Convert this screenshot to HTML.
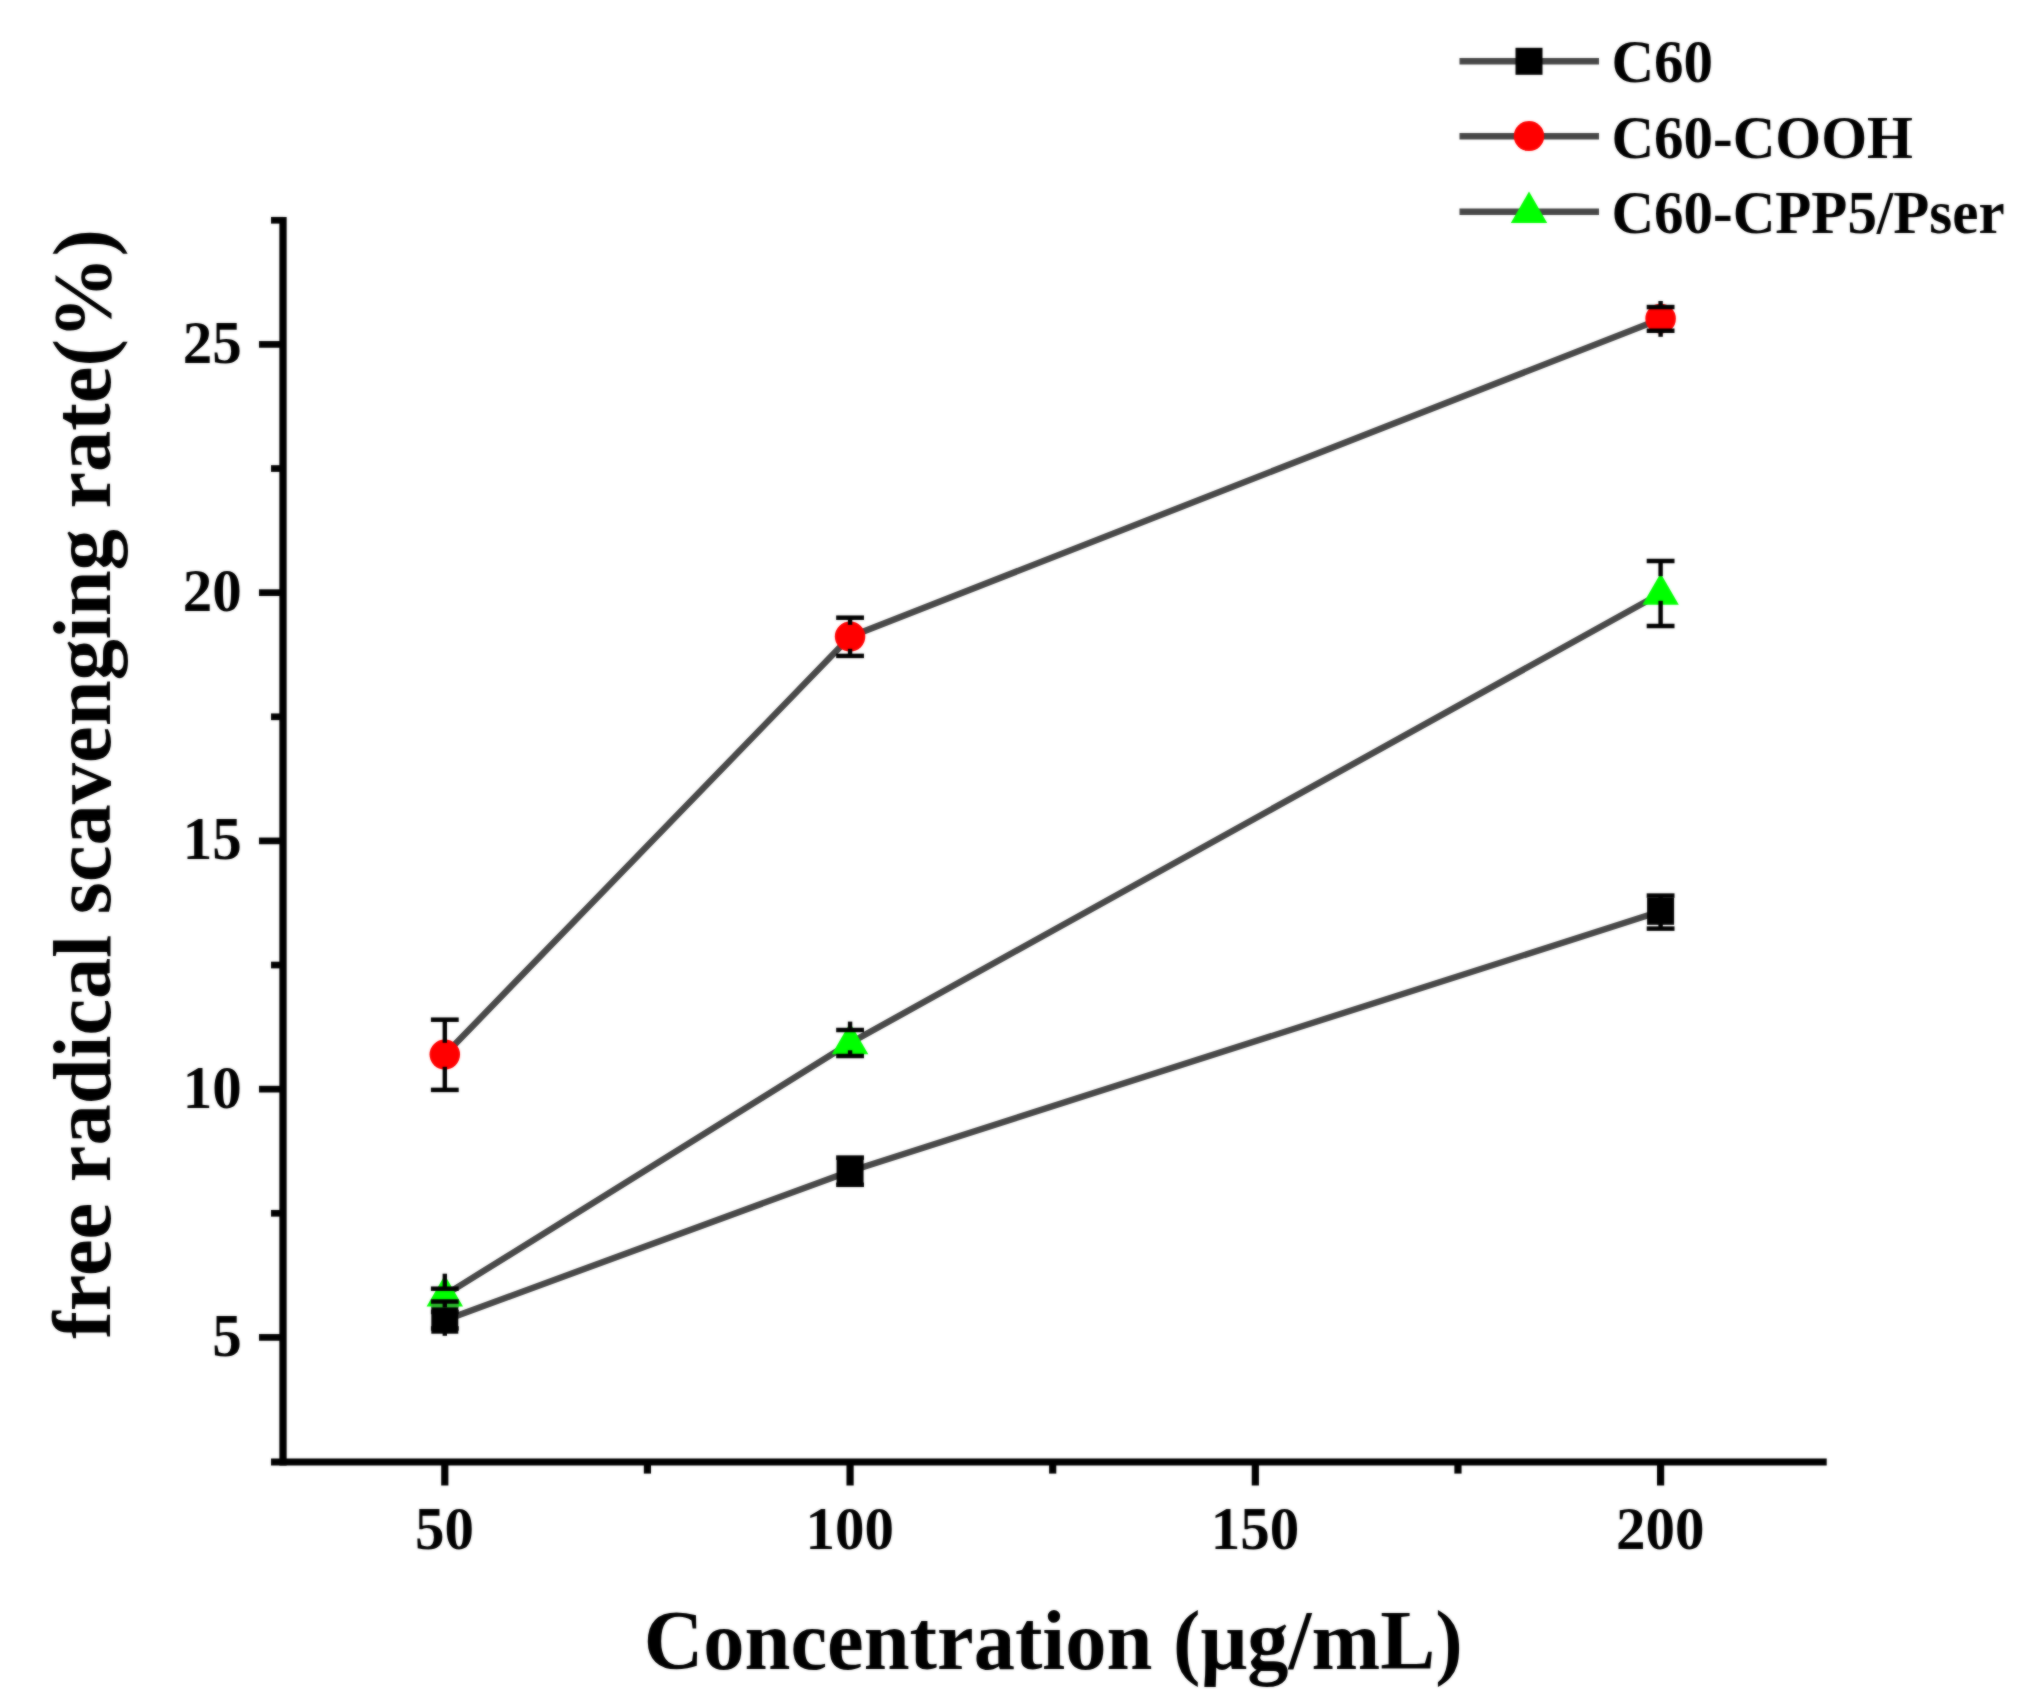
<!DOCTYPE html>
<html lang="en"><head><meta charset="utf-8"><title>Free radical scavenging rate vs concentration</title>
<style>html,body{margin:0;padding:0;background:#fff}body{width:2025px;height:1707px;overflow:hidden}svg{display:block}text{font-family:'Liberation Serif', 'Times New Roman', Times, serif;font-weight:bold;fill:#000}</style>
</head><body>
<svg width="2025" height="1707" viewBox="0 0 2025 1707">
<filter id="soft" x="0" y="0" width="2025" height="1707" filterUnits="userSpaceOnUse" color-interpolation-filters="sRGB"><feGaussianBlur stdDeviation="0.8" result="b"/><feComposite in="b" in2="SourceGraphic" operator="arithmetic" k1="0" k2="0.55" k3="0.45" k4="0"/></filter>
<g filter="url(#soft)">
<rect x="0" y="0" width="2025" height="1707" fill="#ffffff"/>
<g stroke="#000" fill="none" stroke-linecap="butt">
<line x1="283.00" y1="216.93" x2="283.00" y2="1465.40" stroke-width="7.3"/>
<line x1="271.00" y1="1461.90" x2="1826.70" y2="1461.90" stroke-width="7"/>
<line x1="259.00" y1="1337.40" x2="283.00" y2="1337.40" stroke-width="6.7"/>
<line x1="259.00" y1="1089.15" x2="283.00" y2="1089.15" stroke-width="6.7"/>
<line x1="259.00" y1="840.90" x2="283.00" y2="840.90" stroke-width="6.7"/>
<line x1="259.00" y1="592.65" x2="283.00" y2="592.65" stroke-width="6.7"/>
<line x1="259.00" y1="344.40" x2="283.00" y2="344.40" stroke-width="6.7"/>
<line x1="271.00" y1="1213.28" x2="283.00" y2="1213.28" stroke-width="6.7"/>
<line x1="271.00" y1="965.03" x2="283.00" y2="965.03" stroke-width="6.7"/>
<line x1="271.00" y1="716.78" x2="283.00" y2="716.78" stroke-width="6.7"/>
<line x1="271.00" y1="468.53" x2="283.00" y2="468.53" stroke-width="6.7"/>
<line x1="271.00" y1="220.28" x2="283.00" y2="220.28" stroke-width="6.7"/>
<line x1="444.80" y1="1461.90" x2="444.80" y2="1485.50" stroke-width="7.2"/>
<line x1="850.07" y1="1461.90" x2="850.07" y2="1485.50" stroke-width="7.2"/>
<line x1="1255.33" y1="1461.90" x2="1255.33" y2="1485.50" stroke-width="7.2"/>
<line x1="1660.60" y1="1461.90" x2="1660.60" y2="1485.50" stroke-width="7.2"/>
<line x1="647.43" y1="1461.90" x2="647.43" y2="1473.60" stroke-width="7.2"/>
<line x1="1052.70" y1="1461.90" x2="1052.70" y2="1473.60" stroke-width="7.2"/>
<line x1="1457.97" y1="1461.90" x2="1457.97" y2="1473.60" stroke-width="7.2"/>
</g>
<g>
<text transform="translate(241.80,1355.80) scale(1,1.03)" font-size="59" text-anchor="end">5</text>
<text transform="translate(241.80,1107.55) scale(1,1.03)" font-size="59" text-anchor="end">10</text>
<text transform="translate(241.80,859.30) scale(1,1.03)" font-size="59" text-anchor="end">15</text>
<text transform="translate(241.80,611.05) scale(1,1.03)" font-size="59" text-anchor="end">20</text>
<text transform="translate(241.80,362.80) scale(1,1.03)" font-size="59" text-anchor="end">25</text>
<text transform="translate(444.50,1548.90) scale(1,1.03)" font-size="59" text-anchor="middle">50</text>
<text transform="translate(849.77,1548.90) scale(1,1.03)" font-size="59" text-anchor="middle">100</text>
<text transform="translate(1255.03,1548.90) scale(1,1.03)" font-size="59" text-anchor="middle">150</text>
<text transform="translate(1660.30,1548.90) scale(1,1.03)" font-size="59" text-anchor="middle">200</text>
</g>
<text transform="translate(1053.20,1669.40) scale(1,1.03)" font-size="82.5" text-anchor="middle">Concentration (μg/mL)</text>
<text transform="translate(109.60,783.90) rotate(-90)" font-size="82.5" text-anchor="middle">free radical scavenging rate(%)</text>
<g>
<polyline points="444.80,1320.20 850.07,1171.20 1660.60,911.30" fill="none" stroke="#484848" stroke-width="6.4" stroke-linejoin="round" stroke-linecap="butt"/>
<rect x="431.30" y="1306.70" width="27.00" height="27.00" fill="#000000"/>
<rect x="836.57" y="1157.70" width="27.00" height="27.00" fill="#000000"/>
<rect x="1647.10" y="897.80" width="27.00" height="27.00" fill="#000000"/>
<g fill="#000">
<rect x="430.90" y="1309.70" width="27.80" height="4.50"/>
<rect x="430.90" y="1326.20" width="27.80" height="4.50"/>
<rect x="442.60" y="1304.60" width="4.40" height="7.35"/>
<rect x="442.60" y="1328.45" width="4.40" height="7.35"/>
<rect x="836.17" y="1155.35" width="27.80" height="4.50"/>
<rect x="836.17" y="1182.55" width="27.80" height="4.50"/>
<rect x="847.87" y="1157.60" width="4.40" height="1.60"/>
<rect x="847.87" y="1183.20" width="4.40" height="1.60"/>
<rect x="1646.70" y="893.35" width="27.80" height="4.50"/>
<rect x="1646.70" y="926.35" width="27.80" height="4.50"/>
<rect x="1658.40" y="895.60" width="4.40" height="3.70"/>
<rect x="1658.40" y="923.30" width="4.40" height="5.30"/>
</g>
</g>
<g>
<polyline points="444.80,1054.80 850.07,636.80 1660.60,318.90" fill="none" stroke="#484848" stroke-width="6.4" stroke-linejoin="round" stroke-linecap="butt"/>
<ellipse cx="444.80" cy="1054.60" rx="15.25" ry="15.00" fill="#ff0000"/>
<ellipse cx="850.07" cy="636.60" rx="15.25" ry="15.00" fill="#ff0000"/>
<ellipse cx="1660.60" cy="318.70" rx="15.25" ry="15.00" fill="#ff0000"/>
<g fill="#000">
<rect x="430.90" y="1017.45" width="27.80" height="4.50"/>
<rect x="430.90" y="1087.65" width="27.80" height="4.50"/>
<rect x="442.60" y="1019.70" width="4.40" height="23.10"/>
<rect x="442.60" y="1066.80" width="4.40" height="23.10"/>
<rect x="836.17" y="615.45" width="27.80" height="4.50"/>
<rect x="836.17" y="653.65" width="27.80" height="4.50"/>
<rect x="847.87" y="617.70" width="4.40" height="7.10"/>
<rect x="847.87" y="648.80" width="4.40" height="7.10"/>
<rect x="1646.70" y="304.80" width="27.80" height="4.50"/>
<rect x="1646.70" y="328.50" width="27.80" height="4.50"/>
<rect x="1658.40" y="301.00" width="4.40" height="6.05"/>
<rect x="1658.40" y="330.75" width="4.40" height="6.05"/>
</g>
</g>
<g>
<polyline points="444.80,1295.10 850.07,1043.00 1660.60,593.50" fill="none" stroke="#484848" stroke-width="6.4" stroke-linejoin="round" stroke-linecap="butt"/>
<polygon points="444.80,1274.90 463.00,1306.40 426.60,1306.40" fill="#00ff00"/>
<polygon points="850.07,1022.80 868.27,1054.30 831.87,1054.30" fill="#00ff00"/>
<polygon points="1660.60,573.30 1678.80,604.80 1642.40,604.80" fill="#00ff00"/>
<rect x="431.2" y="1303.4" width="27.6" height="4.0" fill="#2cb82c"/>
<g fill="#000">
<rect x="430.90" y="1286.45" width="27.80" height="4.50"/>
<rect x="430.90" y="1299.25" width="27.80" height="4.50"/>
<rect x="442.60" y="1273.70" width="4.40" height="15.00"/>
<rect x="442.60" y="1301.50" width="4.40" height="6.00"/>
<rect x="836.17" y="1027.75" width="27.80" height="4.50"/>
<rect x="836.17" y="1053.75" width="27.80" height="4.50"/>
<rect x="847.87" y="1021.60" width="4.40" height="8.40"/>
<rect x="847.87" y="1050.30" width="4.40" height="5.70"/>
<rect x="1646.70" y="558.75" width="27.80" height="4.50"/>
<rect x="1646.70" y="623.75" width="27.80" height="4.50"/>
<rect x="1658.40" y="561.00" width="4.40" height="15.20"/>
<rect x="1658.40" y="600.80" width="4.40" height="25.20"/>
</g>
</g>
<g>
<line x1="1459.5" y1="61.30" x2="1599" y2="61.30" stroke="#484848" stroke-width="6.4"/>
<rect x="1515.50" y="47.80" width="27.00" height="27.00" fill="#000000"/>
<text transform="translate(1611.50,82.10) scale(1,1.03)" font-size="59" text-anchor="start">C60</text>
<line x1="1459.5" y1="136.30" x2="1599" y2="136.30" stroke="#484848" stroke-width="6.4"/>
<ellipse cx="1529.00" cy="136.10" rx="15.25" ry="15.00" fill="#ff0000"/>
<text transform="translate(1611.50,157.60) scale(1,1.03)" font-size="59" text-anchor="start">C60-COOH</text>
<line x1="1459.5" y1="211.80" x2="1599" y2="211.80" stroke="#484848" stroke-width="6.4"/>
<polygon points="1529.00,191.60 1547.20,223.10 1510.80,223.10" fill="#00ff00"/>
<text transform="translate(1611.50,232.70) scale(1,1.03)" font-size="59" text-anchor="start">C60-CPP5/Pser</text>
</g>
</g>
</svg>
</body></html>
